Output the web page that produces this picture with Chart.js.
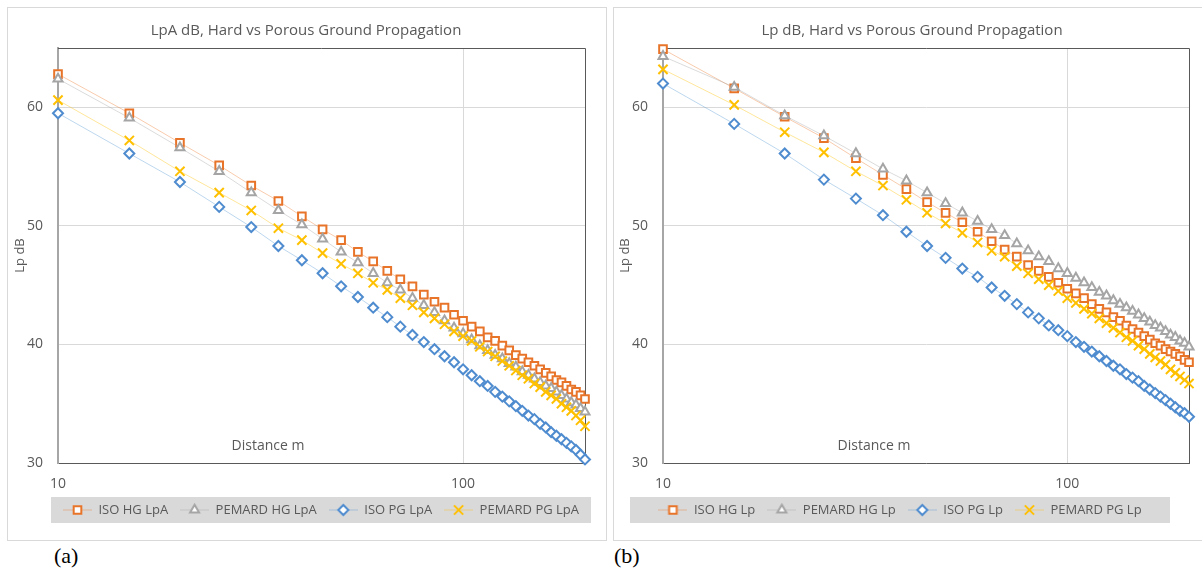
<!DOCTYPE html>
<html>
<head>
<meta charset="utf-8">
<script src="https://cdn.jsdelivr.net/npm/chart.js@4.4.0/dist/chart.umd.min.js"></script>
<style>
  html, body { margin: 0; padding: 0; background: #fff; width: 1202px; height: 574px; overflow: hidden; position: relative; }
  .box { position: absolute; top: 7px; width: 598px; height: 532px; border: 1px solid #d9d9d9; background: #fff; }
  .box canvas { position: absolute; left: 0; top: 0; }
  .tag { position: absolute; top: 543px; font: 22px "Liberation Serif", serif; color: #000; }
</style>
</head>
<body>
<div class="box" style="left:7px"><canvas id="chartA" width="598" height="532"></canvas></div>
<div class="box" style="left:613px"><canvas id="chartB" width="598" height="532"></canvas></div>
<div class="tag" style="left:54px">(a)</div>
<div class="tag" style="left:614px">(b)</div>
<script>
// distance (m) shared by every series
const distances = [10, 15, 20, 25, 30, 35, 40, 45, 50, 55, 60, 65, 70, 75, 80, 85, 90, 95, 100,
  105, 110, 115, 120, 125, 130, 135, 140, 145, 150, 155, 160, 165, 170, 175, 180, 185, 190, 195, 200];

// (a) A-weighted levels
const isoHgA    = [62.8, 59.5, 57.0, 55.1, 53.4, 52.1, 50.8, 49.7, 48.8, 47.8, 47.0, 46.2, 45.5, 44.9, 44.2, 43.6, 43.1, 42.5, 42.0,
  41.5, 41.1, 40.6, 40.3, 39.9, 39.5, 39.1, 38.8, 38.5, 38.2, 37.9, 37.6, 37.3, 37.0, 36.8, 36.5, 36.2, 36.0, 35.7, 35.4];
const pemardHgA = [62.4, 59.1, 56.6, 54.6, 52.8, 51.3, 50.1, 48.9, 47.8, 46.9, 46.0, 45.2, 44.6, 43.9, 43.3, 42.7, 42.0, 41.4, 40.9,
  40.4, 39.9, 39.5, 39.1, 38.8, 38.4, 38.1, 37.7, 37.4, 37.1, 36.8, 36.5, 36.3, 36.0, 35.7, 35.4, 35.1, 34.9, 34.6, 34.3];
const isoPgA    = [59.5, 56.1, 53.7, 51.6, 49.9, 48.3, 47.1, 46.0, 44.9, 44.0, 43.1, 42.3, 41.5, 40.8, 40.2, 39.6, 39.0, 38.5, 37.9,
  37.4, 36.9, 36.5, 36.0, 35.6, 35.2, 34.8, 34.4, 34.0, 33.7, 33.3, 33.0, 32.6, 32.3, 32.0, 31.7, 31.4, 31.1, 30.7, 30.3];
const pemardPgA = [60.6, 57.2, 54.6, 52.8, 51.3, 49.8, 48.8, 47.7, 46.8, 46.0, 45.2, 44.6, 43.9, 43.3, 42.7, 42.2, 41.7, 41.1, 40.7,
  40.3, 39.8, 39.4, 39.0, 38.6, 38.2, 37.8, 37.4, 37.1, 36.7, 36.4, 36.0, 35.7, 35.4, 35.0, 34.7, 34.4, 34.0, 33.6, 33.1];

// (b) unweighted levels
const isoHgB    = [64.9, 61.6, 59.2, 57.4, 55.7, 54.3, 53.1, 52.0, 51.1, 50.3, 49.5, 48.7, 48.0, 47.4, 46.7, 46.2, 45.7, 45.2, 44.7,
  44.3, 43.9, 43.4, 43.0, 42.7, 42.3, 42.0, 41.6, 41.3, 41.0, 40.7, 40.4, 40.1, 39.9, 39.6, 39.4, 39.2, 39.0, 38.7, 38.5];
const pemardHgB = [64.3, 61.7, 59.3, 57.6, 56.1, 54.8, 53.8, 52.8, 51.9, 51.1, 50.4, 49.7, 49.2, 48.5, 47.9, 47.4, 47.0, 46.4, 46.0,
  45.6, 45.2, 44.8, 44.4, 44.1, 43.7, 43.4, 43.1, 42.8, 42.5, 42.2, 41.9, 41.6, 41.4, 41.1, 40.8, 40.6, 40.3, 40.1, 39.8];
const isoPgB    = [62.0, 58.6, 56.1, 53.9, 52.3, 50.9, 49.5, 48.3, 47.3, 46.4, 45.7, 44.8, 44.1, 43.4, 42.7, 42.2, 41.6, 41.2, 40.7,
  40.2, 39.8, 39.4, 39.0, 38.6, 38.2, 37.9, 37.5, 37.2, 36.9, 36.5, 36.2, 35.9, 35.6, 35.3, 35.0, 34.7, 34.4, 34.2, 33.9];
const pemardPgB = [63.2, 60.2, 57.9, 56.2, 54.6, 53.4, 52.2, 51.1, 50.2, 49.4, 48.6, 47.9, 47.4, 46.6, 46.0, 45.5, 45.0, 44.5, 43.9,
  43.5, 43.0, 42.6, 42.2, 41.8, 41.4, 41.0, 40.6, 40.3, 39.9, 39.6, 39.2, 38.9, 38.6, 38.3, 37.9, 37.6, 37.3, 37.0, 36.7];

const namesA = ['ISO HG LpA', 'PEMARD HG LpA', 'ISO PG LpA', 'PEMARD PG LpA'];
const namesB = ['ISO HG Lp', 'PEMARD HG Lp', 'ISO PG Lp', 'PEMARD PG Lp'];
const titleA = 'LpA dB, Hard vs Porous Ground Propagation';
const titleB = 'Lp dB, Hard vs Porous Ground Propagation';
const yTitle = 'Lp dB';
const xTitle = 'Distance m';
const xTicks = [10, 100];
const yTicks = [30, 40, 50, 60];

// Excel-ish series look
const markerColors = ['#E8742A', '#A5A5A5', '#4F8CCF', '#FFC000'];
const lineColors = ['rgba(237,125,49,0.4)', 'rgba(165,165,165,0.4)', 'rgba(91,155,213,0.4)', 'rgba(255,192,0,0.4)'];
const markerStyles = ['rect', 'triangle', 'rectRot', 'crossRot'];
const markerRadius = [5.4, 5.2, 5, 6.5];
const textColor = '#595959';
const FONT = '"Open Sans", "Noto Sans", sans-serif';

function legendIcon(i) {
  const c = document.createElement('canvas');
  c.width = 29; c.height = 14;
  const g = c.getContext('2d');
  g.strokeStyle = lineColors[i];
  g.lineWidth = 1;
  g.beginPath(); g.moveTo(0, 7); g.lineTo(29, 7); g.stroke();
  g.strokeStyle = markerColors[i];
  g.fillStyle = '#ffffff';
  g.lineWidth = 2;
  Chart.helpers.drawPoint(g, { pointStyle: markerStyles[i], radius: markerRadius[i], borderWidth: 2, rotation: 0 }, 14.5, 7);
  return c;
}

// positions title/legend like the workbook and paints the legend strip + plot frame
const excelBits = {
  id: 'excelBits',
  afterLayout(chart, args, opts) {
    if (chart.titleBlock) { chart.titleBlock.left = opts.titleCenter - 280; chart.titleBlock.right = opts.titleCenter + 280; }
    if (chart.legend) { chart.legend.left = opts.legendCenter - 290; chart.legend.right = opts.legendCenter + 290; }
  },
  beforeDraw(chart, args, opts) {
    const ctx = chart.ctx;
    const lg = chart.legend;
    const mid = lg.top + 12 + 6.5;
    ctx.save();
    ctx.fillStyle = '#d9d9d9';
    ctx.fillRect(opts.legendCenter - 270, mid - 13, 540, 26);
    ctx.restore();
  },
  beforeDatasetsDraw(chart, args, opts) {
    const { ctx, chartArea: a } = chart;
    ctx.save();
    ctx.strokeStyle = '#595959';
    ctx.lineWidth = 1;
    ctx.beginPath();
    ctx.moveTo(a.left, a.top + 0.5); ctx.lineTo(a.right + 0.5, a.top + 0.5); ctx.lineTo(a.right + 0.5, a.bottom);
    ctx.stroke();
    ctx.fillStyle = textColor;
    ctx.font = '14px ' + FONT;
    ctx.textAlign = 'center';
    ctx.textBaseline = 'middle';
    ctx.fillText(xTitle, a.left + opts.xTitleOffset, a.bottom - 17);
    ctx.restore();
  }
};

function buildChart(id, title, names, series, look) {
  const canvas = document.getElementById(id);
  const ctx = canvas.getContext('2d');
  const icons = names.map((n, i) => legendIcon(i));

  return new Chart(ctx, {
    type: 'line',
    data: {
      datasets: names.map((name, i) => ({
        label: name,
        data: distances.map((d, j) => ({ x: d, y: series[i][j] })),
        borderColor: lineColors[i],
        borderWidth: 1,
        pointStyle: markerStyles[i],
        pointRadius: markerRadius[i],
        pointBorderColor: markerColors[i],
        pointBackgroundColor: '#ffffff',
        pointBorderWidth: 2,
        order: 4 - i,        // later series on top, like Excel
        clip: false
      }))
    },
    options: {
      responsive: false,
      animation: false,
      layout: { padding: { left: look.padLeft, right: look.padRight, top: 5, bottom: look.padBottom } },
      plugins: {
        title: {
          display: true,
          text: title,
          color: textColor,
          font: { family: FONT, size: 15, weight: 'normal' },
          padding: { top: 9, bottom: 8 }
        },
        legend: {
          position: 'bottom',
          labels: {
            usePointStyle: true,
            pointStyleWidth: 29,
            boxHeight: 13,
            padding: 12,
            color: textColor,
            font: { family: FONT, size: 13 },
            generateLabels: (chart) => chart.data.datasets.map((ds, i) => ({
              text: ds.label,
              pointStyle: icons[i],
              fontColor: textColor,
              datasetIndex: i,
              hidden: false,
              lineWidth: 0,
              strokeStyle: 'transparent',
              fillStyle: 'transparent'
            }))
          }
        },
        tooltip: { enabled: false },
        excelBits: look
      },
      scales: {
        x: {
          type: 'logarithmic',
          min: 10,
          max: 200,
          afterBuildTicks: (axis) => { axis.ticks = xTicks.map(v => ({ value: v })); },
          afterFit: (s) => { s.height = 28.5; },
          ticks: {
            color: textColor,
            font: { family: FONT, size: 14 },
            padding: 13,
            maxRotation: 0,
            autoSkip: false,
            callback: (v) => String(v)
          },
          grid: { color: '#d9d9d9', drawTicks: false },
          border: { color: '#595959', width: 1 }
        },
        y: {
          min: 30,
          max: 65,
          afterBuildTicks: (axis) => { axis.ticks = yTicks.map(v => ({ value: v })); },
          afterFit: (s) => { s.width = look.yWidth; },
          ticks: {
            color: textColor,
            font: { family: FONT, size: 14 },
            padding: 15
          },
          title: {
            display: true,
            text: yTitle,
            color: textColor,
            font: { family: FONT, size: 13 },
            padding: 0
          },
          grid: { color: '#d9d9d9', drawTicks: false },
          border: { color: '#a6a6a6', width: 2 }
        }
      }
    },
    plugins: [excelBits]
  });
}

try {
  buildChart('chartA', titleA, namesA, [isoHgA, pemardHgA, isoPgA, pemardPgA],
    { padLeft: 4, padRight: 21, padBottom: 13.5, yWidth: 46, titleCenter: 298, legendCenter: 313, xTitleOffset: 210 });
  buildChart('chartB', titleB, namesB, [isoHgB, pemardHgB, isoPgB, pemardPgB],
    { padLeft: 3, padRight: 23, padBottom: 13.5, yWidth: 46, titleCenter: 298, legendCenter: 286, xTitleOffset: 211 });
} catch (err) {
  console.warn('chart render failed:', err);
}
</script>
</body>
</html>
